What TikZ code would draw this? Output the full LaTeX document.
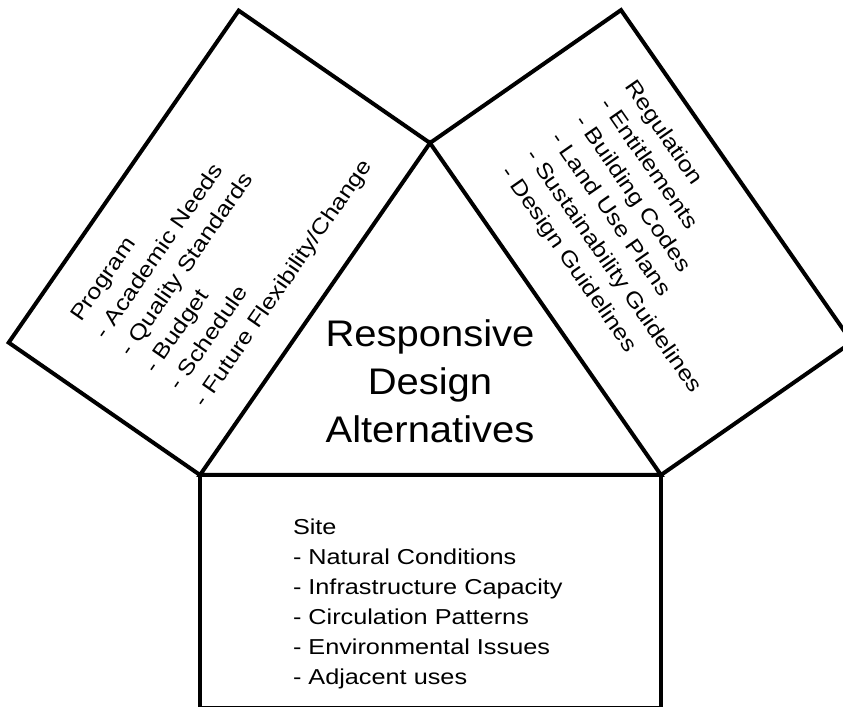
\documentclass[tikz,border=0pt]{standalone}
\usepackage{fontspec}
\setmainfont{Liberation Sans}
\newfontfamily\listfont{Liberation Sans}[FakeStretch=1.17]
\newfontfamily\corefont{Liberation Sans}[FakeStretch=1.08]

\begin{document}
\begin{tikzpicture}[x=0.5pt,y=0.5pt,line width=2pt,
        listtext/.style={align=left,inner sep=0pt,font=\listfont\fontsize{10.8}{15}\selectfont},
        coretext/.style={align=center,inner sep=0pt,font=\corefont\fontsize{18.5}{24}\selectfont}]
            \clip (0,0) rectangle (843,707);
            % corners
            \coordinate (tri-l) at (200,232);
            \coordinate (tri-t) at (430,564);
            \coordinate (tri-r) at (661,232);
            \coordinate (prog-t) at (238.7,696.4);
            \coordinate (prog-l) at (8.7,364.4);
            \coordinate (reg-t) at (621,696.9);
            \coordinate (reg-r) at (852,364.9);
            \coordinate (site-l) at (200,-1);
            \coordinate (site-r) at (661,-1);
            \draw (tri-l)--(tri-t)--(tri-r)--cycle;
            \draw (tri-l)--(prog-l)--(prog-t)--(tri-t);
            \draw (tri-t)--(reg-t)--(reg-r)--(tri-r);
            \draw (tri-l)--(site-l)--(site-r)--(tri-r);
            % texts
            \node (core) at (430,326) [coretext] {Responsive\\Design\\Alternatives};
            \node (site) at (291,190) [listtext,anchor=north west] {Site\\- Natural Conditions\\- Infrastructure Capacity\\- Circulation Patterns\\- Environmental Issues\\- Adjacent uses};
            \node (program) at (222.5,465.5) [listtext,rotate=55.3] {Program\\- Academic Needs\\- Quality Standards\\- Budget\\- Schedule\\- Future Flexibility/Change};
            \node (regulation) at (650,461) [listtext,rotate=-55.2] {Regulation\\- Entitlements\\- Building Codes\\- Land Use Plans\\- Sustainability Guidelines\\- Design Guidelines};
\end{tikzpicture}
\end{document}
